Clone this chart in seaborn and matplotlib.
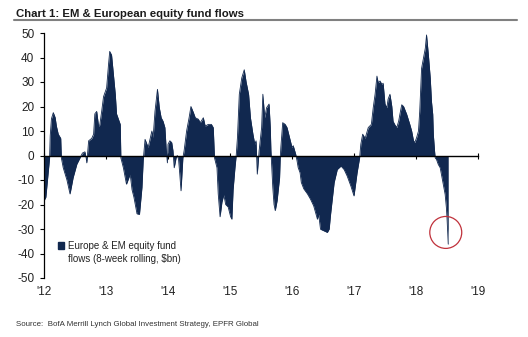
import numpy as np
import pandas as pd
import matplotlib
matplotlib.use("Agg")
import matplotlib.pyplot as plt
from matplotlib.lines import Line2D
from matplotlib.patches import Patch
import seaborn as sns

# ---- data (decimal year, 8-week rolling flows $bn) ----
dates = [
    2012.00, 2012.03, 2012.06, 2012.09, 2012.10, 2012.12, 2012.15, 2012.18, 2012.20, 2012.23,
    2012.27, 2012.28, 2012.31, 2012.37, 2012.42, 2012.44, 2012.47, 2012.53, 2012.58, 2012.62,
    2012.66, 2012.68, 2012.69, 2012.70, 2012.72, 2012.77, 2012.80, 2012.82, 2012.85, 2012.88,
    2012.90, 2012.93, 2012.96, 2013.01, 2013.04, 2013.06, 2013.09, 2013.12, 2013.15, 2013.17,
    2013.23, 2013.24, 2013.28, 2013.33, 2013.39, 2013.42, 2013.45, 2013.50, 2013.54, 2013.58,
    2013.60, 2013.63, 2013.68, 2013.74, 2013.76, 2013.79, 2013.83, 2013.86, 2013.89, 2013.92,
    2013.95, 2013.97, 2013.99, 2014.00, 2014.03, 2014.06, 2014.08, 2014.10, 2014.13, 2014.15,
    2014.17, 2014.19, 2014.21, 2014.24, 2014.26, 2014.30, 2014.34, 2014.37, 2014.41, 2014.44,
    2014.49, 2014.52, 2014.57, 2014.60, 2014.65, 2014.70, 2014.73, 2014.75, 2014.79, 2014.81,
    2014.84, 2014.87, 2014.90, 2014.93, 2014.97, 2015.01, 2015.03, 2015.05, 2015.08, 2015.10,
    2015.12, 2015.15, 2015.19, 2015.23, 2015.26, 2015.30, 2015.33, 2015.37, 2015.40, 2015.42,
    2015.43, 2015.44, 2015.46, 2015.47, 2015.51, 2015.53, 2015.56, 2015.59, 2015.63, 2015.65,
    2015.66, 2015.67, 2015.69, 2015.71, 2015.73, 2015.76, 2015.80, 2015.81, 2015.82, 2015.85,
    2015.89, 2015.92, 2015.96, 2016.00, 2016.02, 2016.06, 2016.08, 2016.10, 2016.13, 2016.15,
    2016.19, 2016.25, 2016.30, 2016.35, 2016.41, 2016.43, 2016.46, 2016.52, 2016.57, 2016.60,
    2016.62, 2016.68, 2016.73, 2016.79, 2016.84, 2016.89, 2016.95, 2017.00, 2017.05, 2017.09,
    2017.11, 2017.14, 2017.18, 2017.23, 2017.28, 2017.31, 2017.34, 2017.37, 2017.39, 2017.42,
    2017.45, 2017.47, 2017.50, 2017.53, 2017.55, 2017.58, 2017.61, 2017.63, 2017.66, 2017.69,
    2017.72, 2017.74, 2017.77, 2017.80, 2017.85, 2017.90, 2017.93, 2017.96, 2017.98, 2018.01,
    2018.04, 2018.06, 2018.09, 2018.12, 2018.15, 2018.17, 2018.20, 2018.23, 2018.25, 2018.27,
    2018.28, 2018.30, 2018.31, 2018.33, 2018.36, 2018.39, 2018.41, 2018.44, 2018.47, 2018.49,
    2018.50, 2018.52,
]
flows = [
    -18.5, -17, -9, -1, 8, 15, 17.5, 15.5, 12, 8.7,
    7, -1, -5, -10, -15.7, -13, -9, -3.5, -1, 1,
    1.5, -1, -3, 0, 6, 7, 8.7, 17, 18, 12,
    12.5, 18, 24, 27.6, 37, 42.5, 41, 33, 25, 17,
    12.7, -1, -5, -11.7, -7.6, -14, -17, -23.8, -24, -13,
    -2, 6.6, 3.3, 10, 7.3, 18, 27, 19.5, 15.4, 14,
    11.4, 3, -3, 4.6, 6, 5.3, 2, -5, -1, 0,
    -1.5, -7.6, -14.4, -1, 2, 10, 15.4, 20, 17.5, 15.4,
    14.8, 13.4, 15.4, 12, 12.7, 12.7, 11.4, -1, -5, -15.7,
    -25, -19, -16, -20, -21, -25, -26, -14, -5, 0,
    7.3, 25, 31.7, 35, 30, 25, 15.4, 8.7, 4.6, 6,
    -1, -7.6, -1, 2, 11.4, 25, 15.4, 19.5, 21, 11.4,
    2, -3, -13, -20, -22.5, -18.4, -9, -1, 3.3, 13.4,
    12.7, 11.4, 7.3, 3.3, 4, 0.5, -2, -5, -7, -11,
    -13.6, -15.7, -17.9, -20.6, -26, -24, -30.1, -30.8, -31.4, -30,
    -24.5, -11, -5.7, -4.3, -5.7, -8.4, -12.5, -16.5, -7, -1,
    4.6, 8.7, 7, 11.4, 12.7, 19.5, 25, 32.4, 29.7, 30.4,
    29, 29.5, 21, 19.5, 23, 25, 20, 14, 12.5, 11.4,
    14, 16.8, 20.7, 20, 16.8, 12.7, 10, 6, 5.3, 7.3,
    10, 18, 35.6, 39.7, 43.8, 49.2, 41, 31.6, 22, 16.8,
    8.5, 1.7, -1, -1.6, -3.7, -5, -7.7, -11.8, -15.9, -21.3,
    -25.4, -36.2,
]
year_ticks = [2012, 2013, 2014, 2015, 2016, 2017, 2018, 2019]
year_labels = ["'12", "'13", "'14", "'15", "'16", "'17", "'18", "'19"]
y_ticks = [-50, -40, -30, -20, -10, 0, 10, 20, 30, 40, 50]
highlight_x = [2018.48]
highlight_y = [-31.4]

title = "Chart 1: EM & European equity fund flows"
legend_line1 = "Europe & EM equity fund"
legend_line2 = "flows (8-week rolling, $bn)"
source = "Source:  BofA Merrill Lynch Global Investment Strategy, EPFR Global"

NAVY = "#11284f"

sns.set_style("white")
plt.rcParams["font.family"] = ["Liberation Sans", "DejaVu Sans"]
plt.rcParams["axes.unicode_minus"] = False

df = pd.DataFrame({"date": dates, "flow": flows})

fig = plt.figure(figsize=(5.28, 3.37), dpi=100)
ax = fig.add_axes([44 / 528, 1 - 278 / 337, 434 / 528, 245 / 337])

ax.fill_between(df["date"], 0, df["flow"], color=NAVY, lw=0, zorder=1)
sns.lineplot(data=df, x="date", y="flow", ax=ax, color=NAVY, lw=0.6, zorder=1.2)

ax.scatter(highlight_x, highlight_y, s=23 ** 2, facecolors="none",
           edgecolors="#c0313b", linewidths=0.9, zorder=3, clip_on=False)

ax.set_xlim(2012, 2019)
ax.set_ylim(-50, 50)
ax.set_xlabel("")
ax.set_ylabel("")

for s in ["top", "right"]:
    ax.spines[s].set_visible(False)
ax.spines["left"].set_color("black")
ax.spines["left"].set_linewidth(0.9)
ax.spines["bottom"].set_position(("data", 0))
ax.spines["bottom"].set_color("black")
ax.spines["bottom"].set_linewidth(1.0)
ax.spines["bottom"].set_zorder(2.5)

ax.set_yticks(y_ticks)
ax.set_yticklabels([str(v) for v in y_ticks])
ax.tick_params(axis="y", direction="out", length=3, width=0.8, color="black",
               pad=4, labelsize=8.5, labelcolor="#222222", left=True)
ax.set_xticks(year_ticks)
ax.tick_params(axis="x", direction="inout", length=4, width=0.8, color="black",
               labelbottom=False, bottom=True)

sec = ax.secondary_xaxis(0)
sec.set_xticks(year_ticks)
sec.set_xticklabels(year_labels)
sec.tick_params(axis="x", length=0, pad=6, labelsize=8.5, labelcolor="#222222")
sec.spines["bottom"].set_visible(False)

h1 = Patch(facecolor=NAVY, edgecolor=NAVY)
h2 = Patch(facecolor="none", edgecolor="none")
ax.legend([h1, h2], [legend_line1, legend_line2], loc="upper left",
          bbox_to_anchor=(58 / 528, 1 - 241 / 337), bbox_transform=fig.transFigure,
          frameon=False, fontsize=7.0, handlelength=0.65, handleheight=0.65,
          handletextpad=0.35, labelspacing=0.3, borderpad=0, borderaxespad=0,
          labelcolor="#222222")

fig.text(16 / 528, 1 - 16.7 / 337, title, fontsize=8.2, fontweight="bold",
         color="#1a1a1a", ha="left", va="baseline")
fig.add_artist(Line2D([14 / 528, 517 / 528], [1 - 20 / 337, 1 - 20 / 337],
                      color="#808080", lw=1.5, transform=fig.transFigure))
fig.text(16 / 528, 1 - 324 / 337, source, fontsize=5.7, color="#333333",
         ha="left", va="center")

fig.savefig("out.png", dpi=100)
